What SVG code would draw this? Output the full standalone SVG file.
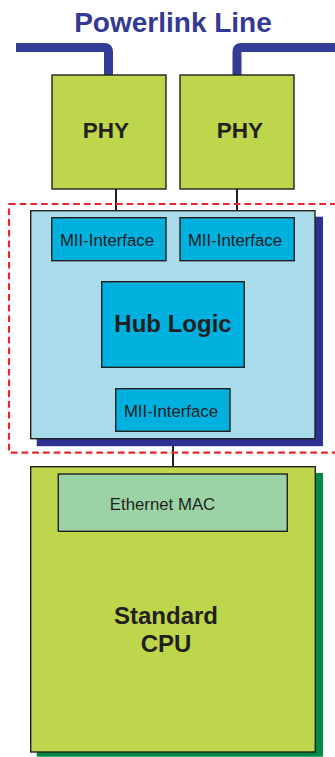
<svg xmlns="http://www.w3.org/2000/svg" width="335" height="757" viewBox="0 0 335 757">
<style>
.box{stroke:#231f20;stroke-width:1.4}
.phy{fill:#bdd64b}
.mii{fill:#00b0de}
.t{font-family:"Liberation Sans",Arial,sans-serif;fill:#231f20;text-anchor:middle}
.b{font-weight:bold}
.conn{stroke:#231f20;stroke-width:2;fill:none}
.bus{stroke:#333c96;stroke-width:9;fill:none;stroke-linejoin:round}
</style>
<rect width="335" height="757" fill="#ffffff"/>
<text class="t b" x="173" y="32" font-size="28" style="fill:#333a95">Powerlink Line</text>
<g id="connectors">
<path class="bus" d="M16 47.5 H104.5 Q108.5 47.5 108.5 51.5 V75"/>
<path class="bus" d="M340 47.5 H241 Q237 47.5 237 51.5 V75"/>
<line class="conn" x1="116" y1="189" x2="116" y2="218"/>
<line class="conn" x1="237" y1="189" x2="237" y2="218"/>
<line class="conn" x1="130" y1="261" x2="130" y2="282"/>
<line class="conn" x1="215.7" y1="261" x2="215.7" y2="282"/>
<line class="conn" x1="173" y1="367" x2="173" y2="389"/>
<line class="conn" x1="173" y1="439" x2="173" y2="467"/>
</g>
<g id="phy1">
<rect class="box phy" x="52" y="75" width="114" height="114"/>
<text class="t b" x="106" y="138" font-size="22.5">PHY</text>
</g>
<g id="phy2">
<rect class="box phy" x="180" y="75" width="114" height="114"/>
<text class="t b" x="240" y="138" font-size="22.5">PHY</text>
</g>
<g id="hub-chip">
<rect x="36.7" y="216.7" width="286.3" height="229.5" fill="#2e3192"/>
<rect class="box" x="30.7" y="210.7" width="284.3" height="228" fill="#a9dcea"/>
</g>
<g id="mii1">
<rect class="box mii" x="51.7" y="217.7" width="114.3" height="43"/>
<text class="t" x="107" y="246" font-size="16.8">MII-Interface</text>
</g>
<g id="mii2">
<rect class="box mii" x="180" y="217.7" width="114.3" height="43"/>
<text class="t" x="235" y="246" font-size="16.8">MII-Interface</text>
</g>
<g id="hub">
<rect class="box mii" x="101.7" y="281.7" width="142.6" height="85.6"/>
<text class="t b" x="173" y="331.7" font-size="24">Hub Logic</text>
</g>
<g id="mii3">
<rect class="box mii" x="115.7" y="388.7" width="114.3" height="42.6"/>
<text class="t" x="171" y="416.7" font-size="16.8">MII-Interface</text>
</g>
<g id="cpu">
<rect x="36.7" y="473" width="286.3" height="283.7" fill="#008a45"/>
<rect class="box phy" x="30.7" y="466.7" width="284.6" height="285.3"/>
<text class="t b" x="166" y="624" font-size="24">Standard</text>
<text class="t b" x="166" y="651.7" font-size="24">CPU</text>
</g>
<g id="mac">
<rect class="box" x="58.3" y="474" width="229" height="57.3" fill="#9bd3a5"/>
<text class="t" x="162.5" y="510" font-size="16.8">Ethernet MAC</text>
</g>
<g id="fpga-boundary">
<rect x="9" y="204" width="340" height="248.7" fill="none" stroke="#e8262b" stroke-width="2.2" stroke-dasharray="6.7 4"/>
</g>
</svg>
